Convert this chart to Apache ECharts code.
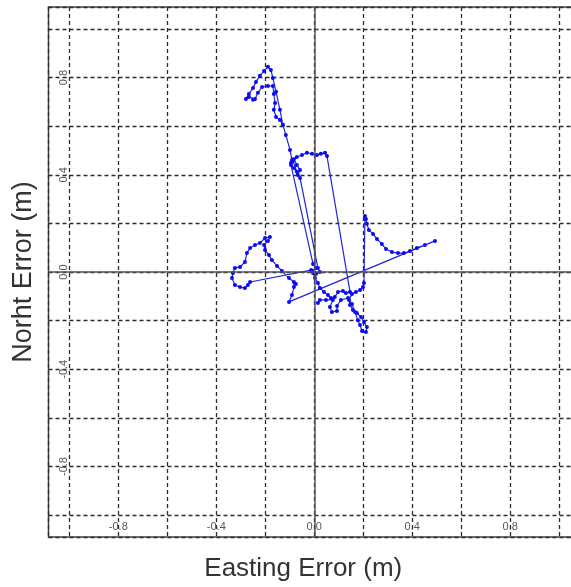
<!doctype html>
<html>
<head>
    <meta charset="UTF-8">
    <title>Position error</title>
    <script src="https://cdn.jsdelivr.net/npm/echarts@6/dist/echarts.min.js"></script>
    <style>
        html, body { margin: 0; padding: 0; background: #fff; }
        #main { width: 571px; height: 587px; }
    </style>
</head>
<body>
<div id="main"></div>
<script>
    // easting / northing error (m), in track order
    var eastingError = [
        -0.128, -0.140, -0.156, -0.165, -0.160, -0.165, -0.169, -0.189, -0.213, -0.230,
        -0.242, -0.250, -0.267, -0.279, -0.267, -0.250, -0.238, -0.222, -0.205, -0.189,
        -0.177, -0.169, -0.156, -0.140, -0.128, -0.116, -0.099, -0.091,
        -0.095, -0.083, -0.071, -0.058, -0.067, -0.083, -0.095,
        -0.005, 0.007, -0.009, 0.007, 0.023, 0.015,
        -0.058, -0.071, -0.087, -0.071, -0.050, -0.030, -0.009, 0.011, 0.027, 0.044, 0.052,
        0.146,
        0.129, 0.117, 0.097, 0.084, 0.068, 0.056, 0.040, 0.023, 0.015, 0.003, -0.005, -0.013,
        -0.262, -0.271, -0.283, -0.303, -0.324, -0.336, -0.332, -0.324, -0.303, -0.283,
        -0.275, -0.262, -0.242, -0.222, -0.201, -0.181, -0.189, -0.205, -0.201, -0.185,
        -0.173, -0.152, -0.132, -0.103, -0.083, -0.075, -0.083, -0.091, -0.103,
        0.493,
        0.452, 0.419, 0.391, 0.366, 0.342, 0.317, 0.293, 0.276, 0.256, 0.240, 0.223, 0.215, 0.211, 0.207,
        0.203, 0.199, 0.187, 0.170, 0.154,
        0.142, 0.146, 0.158, 0.174, 0.191, 0.203, 0.215, 0.211, 0.195, 0.187, 0.178,
        0.166, 0.154, 0.138, 0.109, 0.093, 0.093, 0.072, 0.064, 0.076, 0.048, 0.023, 0.015
    ];
    var northError = [
        0.605, 0.625, 0.638, 0.667, 0.695, 0.732, 0.765, 0.765, 0.761, 0.737,
        0.712, 0.708, 0.720, 0.712, 0.732, 0.757, 0.782, 0.807, 0.827, 0.844,
        0.831, 0.798, 0.741, 0.667, 0.605, 0.564, 0.502, 0.461,
        0.449, 0.465, 0.440, 0.420, 0.399, 0.428, 0.440,
        0.033, 0.016, 0.004, -0.008, 0.000, 0.016,
        0.387, 0.412, 0.457, 0.473, 0.481, 0.490, 0.486, 0.481, 0.486, 0.490, 0.477,
        -0.082,
        -0.086, -0.078, -0.082, -0.103, -0.107, -0.095, -0.082, -0.066, -0.045, -0.025, -0.004, 0.008,
        -0.041, -0.053, -0.066, -0.062, -0.053, -0.025, -0.004, 0.016, 0.021, 0.041,
        0.078, 0.099, 0.111, 0.119, 0.140, 0.144, 0.128, 0.111, 0.091, 0.070,
        0.049, 0.025, 0.004, -0.025, -0.041, -0.049, -0.062, -0.095, -0.123,
        0.128,
        0.111, 0.099, 0.086, 0.078, 0.078, 0.082, 0.095, 0.115, 0.136, 0.156, 0.173, 0.198, 0.218, 0.230,
        -0.045, -0.062, -0.074, -0.082, -0.091,
        -0.115, -0.136, -0.156, -0.169, -0.185, -0.206, -0.226, -0.247, -0.243, -0.218, -0.198,
        -0.165, -0.132, -0.107, -0.115, -0.140, -0.160, -0.165, -0.144, -0.115, -0.115, -0.115, -0.128
    ];
    var labeledTicks = [-0.8, -0.4, 0, 0.4, 0.8];
    var xRange = [-1.085, 1.085];
    var yRange = [-1.09, 1.09];

    var track = eastingError.map(function (x, i) {
        return [x, northError[i]];
    });

    var tickLabel = function (v) {
        for (var i = 0; i < labeledTicks.length; i++) {
            if (Math.abs(v - labeledTicks[i]) < 1e-6) {
                return labeledTicks[i].toFixed(1);
            }
        }
        return '';
    };

    var gridLine = {
        show: true,
        lineStyle: { color: '#2b2b2b', width: 1.3, type: [4, 3] }
    };

    var myChart = echarts.init(document.getElementById('main'));
    var option = {
        animation: false,
        grid: {
            left: 48.5, right: -9, top: 7, bottom: 50,
            outerBoundsMode: 'none',
            show: true, borderColor: '#444', borderWidth: 1.5
        },
        xAxis: {
            type: 'value',
            min: xRange[0], max: xRange[1],
            minInterval: 0.2, maxInterval: 0.2,
            name: 'Easting Error (m)',
            nameLocation: 'middle',
            nameGap: 19,
            nameTextStyle: {
                fontSize: 26, color: '#333', fontFamily: 'Liberation Sans',
                padding: [0, 22, 0, 0]
            },
            axisLine: { show: false },
            axisTick: { show: false },
            splitLine: gridLine,
            axisLabel: {
                inside: true, margin: 5, fontSize: 11, color: '#555',
                fontFamily: 'Liberation Sans',
                showMinLabel: false, showMaxLabel: false,
                formatter: tickLabel
            }
        },
        yAxis: {
            type: 'value',
            min: yRange[0], max: yRange[1],
            minInterval: 0.2, maxInterval: 0.2,
            name: 'Norht Error (m)',
            nameLocation: 'middle',
            nameGap: 11,
            nameTextStyle: { fontSize: 27, color: '#333', fontFamily: 'Liberation Sans' },
            axisLine: { show: false },
            axisTick: { show: false },
            splitLine: gridLine,
            axisLabel: {
                inside: true, margin: 10, rotate: 90, fontSize: 11, color: '#555',
                fontFamily: 'Liberation Sans',
                showMinLabel: false, showMaxLabel: false,
                formatter: tickLabel
            }
        },
        series: [
            {
                type: 'line',
                data: track,
                symbol: 'circle',
                symbolSize: 4,
                showSymbol: true,
                z: 3,
                lineStyle: { color: '#2323d8', width: 1.2 },
                itemStyle: { color: '#0a0af5' },
                markLine: {
                    silent: true,
                    symbol: 'none',
                    label: { show: false },
                    lineStyle: { color: '#555', width: 1.5, type: 'solid' },
                    data: [{ xAxis: 0 }, { yAxis: 0 }]
                }
            }
        ]
    };
    myChart.setOption(option);
</script>
</body>
</html>
